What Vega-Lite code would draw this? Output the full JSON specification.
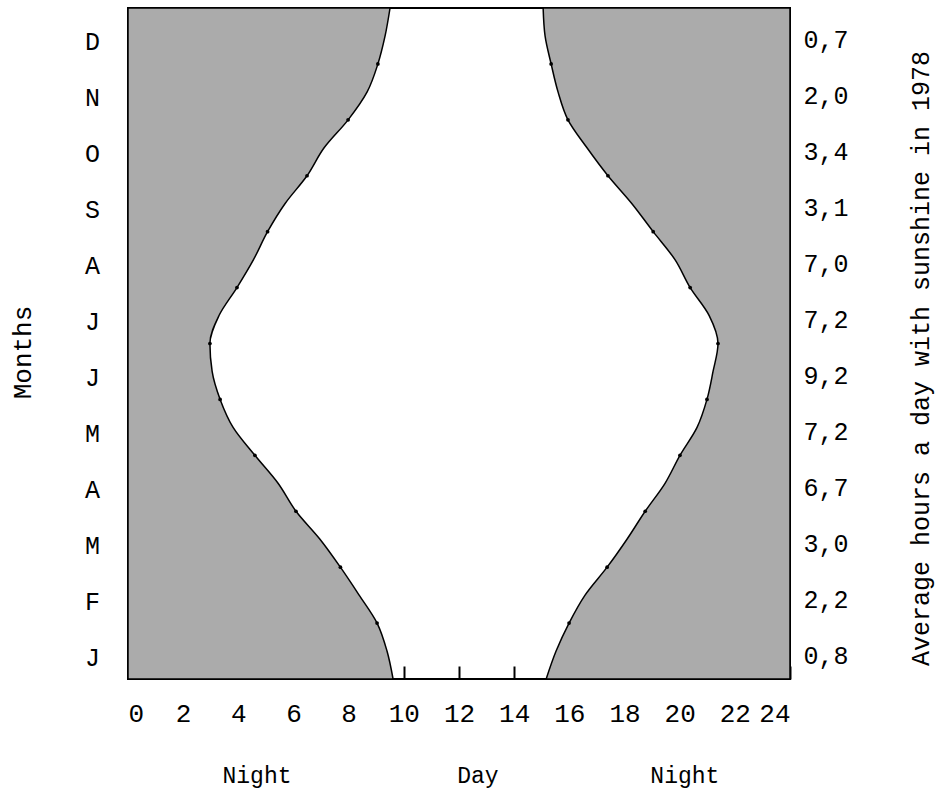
{
  "$schema": "https://vega.github.io/schema/vega-lite/v6.json",
  "autosize": "none",
  "width": 662,
  "height": 671,
  "padding": {"left": 128, "top": 8, "right": 150, "bottom": 118},
  "background": "white",
  "config": {
    "view": {"stroke": "black", "strokeWidth": 2},
    "font": "Liberation Mono",
    "axis": {"labelColor": "black", "titleColor": "black", "grid": false, "labelFont": "Liberation Mono", "titleFont": "Liberation Mono", "titleFontWeight": "normal"},
    "axisX": {"labelFontSize": 26, "labelPadding": 34, "domain": false, "tickSize": -13, "tickColor": "black", "tickWidth": 2}
  },
  "data": {
    "values": [
      {"m": 0, "rise": 9.61, "set": 15.16},
      {"m": 0.5, "rise": 9.39, "set": 15.52},
      {"m": 1, "rise": 9.03, "set": 15.99},
      {"m": 1.5, "rise": 8.38, "set": 16.57},
      {"m": 2, "rise": 7.70, "set": 17.37},
      {"m": 2.5, "rise": 6.96, "set": 18.09},
      {"m": 3, "rise": 6.09, "set": 18.75},
      {"m": 3.5, "rise": 5.44, "set": 19.47},
      {"m": 4, "rise": 4.60, "set": 20.01},
      {"m": 4.5, "rise": 3.81, "set": 20.63},
      {"m": 5, "rise": 3.34, "set": 20.99},
      {"m": 5.5, "rise": 3.05, "set": 21.21},
      {"m": 6, "rise": 2.97, "set": 21.39},
      {"m": 6.5, "rise": 3.30, "set": 21.07},
      {"m": 7, "rise": 3.95, "set": 20.38},
      {"m": 7.5, "rise": 4.55, "set": 19.83},
      {"m": 8, "rise": 5.06, "set": 19.04},
      {"m": 8.5, "rise": 5.69, "set": 18.27},
      {"m": 9, "rise": 6.49, "set": 17.40},
      {"m": 9.5, "rise": 7.11, "set": 16.64},
      {"m": 10, "rise": 7.98, "set": 15.95},
      {"m": 10.5, "rise": 8.67, "set": 15.59},
      {"m": 11, "rise": 9.06, "set": 15.34},
      {"m": 11.5, "rise": 9.32, "set": 15.12},
      {"m": 12, "rise": 9.50, "set": 15.05}
    ]
  },
  "layer": [
    {
      "mark": {"type": "area", "orient": "horizontal", "interpolate": "monotone", "color": "#ababab", "stroke": "black", "strokeWidth": 1.5},
      "encoding": {
        "y": {"field": "m", "type": "quantitative", "scale": {"domain": [0, 12], "nice": false, "zero": false},
          "axis": {"orient": "left", "values": [0.5, 1.5, 2.5, 3.5, 4.5, 5.5, 6.5, 7.5, 8.5, 9.5, 10.5, 11.5],
            "labelExpr": "['J','F','M','A','M','J','J','A','S','O','N','D'][floor(datum.value)]",
            "ticks": false, "domain": false, "labelFontSize": 25, "labelAlign": "center", "labelPadding": 36, "labelOffset": 6,
            "title": "Months", "titleFontSize": 26, "titleAngle": 270, "titleX": -106, "titleY": 344, "titleAlign": "center", "titleBaseline": "middle"}},
        "x": {"field": "rise", "type": "quantitative", "scale": {"domain": [0, 24], "nice": false, "zero": false},
          "axis": {"values": [0, 2, 4, 6, 8, 10, 12, 14, 16, 18, 20, 22, 24],
            "title": "Night\u00a0\u00a0\u00a0\u00a0\u00a0\u00a0\u00a0\u00a0\u00a0\u00a0\u00a0\u00a0Day\u00a0\u00a0\u00a0\u00a0\u00a0\u00a0\u00a0\u00a0\u00a0\u00a0\u00a0Night", "titleFontSize": 23, "titleX": 94, "titleY": 96, "titleAlign": "left", "titleBaseline": "middle"}},
        "x2": {"datum": 0}
      }
    },
    {
      "mark": {"type": "area", "orient": "horizontal", "interpolate": "monotone", "color": "#ababab", "stroke": "black", "strokeWidth": 1.5},
      "encoding": {
        "y": {"field": "m", "type": "quantitative",
          "axis": {"orient": "right", "values": [0.5, 1.5, 2.5, 3.5, 4.5, 5.5, 6.5, 7.5, 8.5, 9.5, 10.5, 11.5],
            "labelExpr": "['0,8','2,2','3,0','6,7','7,2','9,2','7,2','7,0','3,1','3,4','2,0','0,7'][floor(datum.value)]",
            "ticks": false, "domain": false, "labelFontSize": 25, "labelAlign": "left", "labelPadding": 13, "labelOffset": 4,
            "title": "Average hours a day with sunshine in 1978", "titleFontSize": 25, "titleAngle": 270, "titleX": 130, "titleY": 350, "titleAlign": "center", "titleBaseline": "middle"}},
        "x": {"field": "set", "type": "quantitative"},
        "x2": {"datum": 24}
      }
    },
    {
      "transform": [{"filter": "datum.m % 1 == 0 && datum.m > 0 && datum.m < 12"}],
      "mark": {"type": "point", "filled": true, "color": "black", "size": 14, "opacity": 1},
      "encoding": {
        "y": {"field": "m", "type": "quantitative", "axis": null},
        "x": {"field": "rise", "type": "quantitative"}
      }
    },
    {
      "transform": [{"filter": "datum.m % 1 == 0 && datum.m > 0 && datum.m < 12"}],
      "mark": {"type": "point", "filled": true, "color": "black", "size": 14, "opacity": 1},
      "encoding": {
        "y": {"field": "m", "type": "quantitative", "axis": null},
        "x": {"field": "set", "type": "quantitative"}
      }
    }
  ],
  "resolve": {"axis": {"y": "independent"}}
}
